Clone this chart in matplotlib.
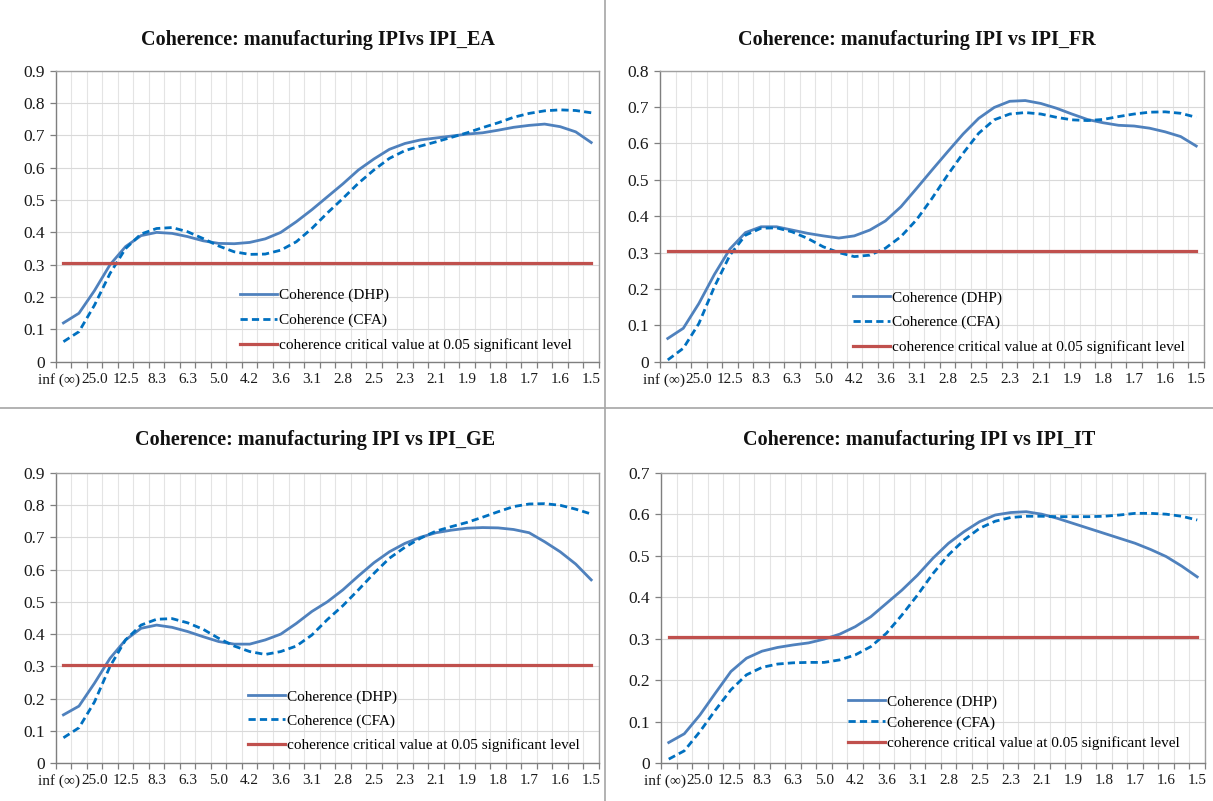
import numpy as np
import matplotlib
matplotlib.use("Agg")
import matplotlib.pyplot as plt
from matplotlib.lines import Line2D
from matplotlib.ticker import FuncFormatter
from matplotlib.transforms import ScaledTranslation

plt.rcParams['font.family'] = ['Liberation Serif', 'DejaVu Serif']

# Period (in quarters) of each frequency ordinate, k = 0..34
PERIODS = ["inf (∞)", "50.0", "25.0", "16.7", "12.5", "10.0", "8.3", "7.1", "6.3",
           "5.6", "5.0", "4.5", "4.2", "3.8", "3.6", "3.3", "3.1", "2.9", "2.8",
           "2.6", "2.5", "2.4", "2.3", "2.2", "2.1", "2.0", "1.9", "1.9", "1.8",
           "1.7", "1.7", "1.6", "1.6", "1.5", "1.5"]

CRIT = 0.305

EA_DHP = [0.12, 0.15, 0.22, 0.30, 0.356, 0.39, 0.40, 0.397, 0.387, 0.374, 0.366, 0.365,
          0.369, 0.38, 0.40, 0.433, 0.47, 0.51, 0.55, 0.593, 0.627, 0.657, 0.675, 0.686,
          0.692, 0.698, 0.704, 0.708, 0.716, 0.725, 0.731, 0.735, 0.727, 0.711, 0.678]
EA_CFA = [0.062, 0.093, 0.175, 0.273, 0.35, 0.395, 0.412, 0.415, 0.402, 0.381, 0.358, 0.34,
          0.332, 0.333, 0.345, 0.371, 0.412, 0.46, 0.505, 0.552, 0.593, 0.629, 0.653, 0.667,
          0.68, 0.694, 0.708, 0.724, 0.739, 0.756, 0.768, 0.776, 0.779, 0.777, 0.77]

FR_DHP = [0.064, 0.092, 0.16, 0.24, 0.31, 0.355, 0.371, 0.371, 0.362, 0.353, 0.346, 0.34,
          0.346, 0.362, 0.387, 0.426, 0.476, 0.527, 0.577, 0.626, 0.669, 0.699, 0.716, 0.718,
          0.71, 0.697, 0.681, 0.666, 0.657, 0.65, 0.648, 0.642, 0.632, 0.619, 0.593]
FR_CFA = [0.005, 0.037, 0.105, 0.206, 0.293, 0.348, 0.367, 0.368, 0.357, 0.339, 0.316, 0.30,
          0.289, 0.293, 0.312, 0.344, 0.39, 0.449, 0.513, 0.573, 0.628, 0.665, 0.681, 0.685,
          0.681, 0.672, 0.665, 0.663, 0.666, 0.674, 0.681, 0.686, 0.687, 0.683, 0.672]

GE_DHP = [0.15, 0.177, 0.248, 0.325, 0.382, 0.418, 0.428, 0.421, 0.408, 0.392, 0.377, 0.369,
          0.369, 0.382, 0.40, 0.433, 0.47, 0.50, 0.537, 0.58, 0.621, 0.655, 0.681, 0.70,
          0.714, 0.722, 0.728, 0.73, 0.729, 0.724, 0.714, 0.686, 0.655, 0.617, 0.568]
GE_CFA = [0.079, 0.11, 0.19, 0.30, 0.382, 0.428, 0.446, 0.448, 0.435, 0.415, 0.387, 0.363,
          0.346, 0.337, 0.346, 0.363, 0.397, 0.445, 0.488, 0.537, 0.588, 0.635, 0.669, 0.697,
          0.719, 0.733, 0.746, 0.762, 0.779, 0.795, 0.803, 0.804, 0.799, 0.787, 0.772]

IT_DHP = [0.05, 0.071, 0.116, 0.169, 0.221, 0.253, 0.27, 0.279, 0.285, 0.29, 0.299, 0.311,
          0.329, 0.353, 0.385, 0.417, 0.453, 0.494, 0.53, 0.558, 0.582, 0.598, 0.604, 0.606,
          0.60, 0.59, 0.578, 0.566, 0.554, 0.542, 0.53, 0.515, 0.498, 0.475, 0.449]
IT_CFA = [0.01, 0.03, 0.076, 0.128, 0.177, 0.213, 0.231, 0.239, 0.242, 0.243, 0.243, 0.249,
          0.261, 0.281, 0.313, 0.357, 0.405, 0.457, 0.502, 0.538, 0.566, 0.583, 0.592, 0.595,
          0.595, 0.594, 0.594, 0.594, 0.595, 0.598, 0.602, 0.602, 0.60, 0.595, 0.586]

DHP_COLOR = "#4F81BD"
CFA_COLOR = "#0070C0"
CRIT_COLOR = "#C0504D"

# title, dhp, cfa, ymax, axes rect, title pos, legend anchor, legend row spacing
PANELS = [
    ("Coherence: manufacturing IPIvs IPI_EA", EA_DHP, EA_CFA, 0.9,
     [0.0459, 0.5484, 0.4479, 0.3633], (0.262, 0.950), (0.339, 0.033), 0.72),
    ("Coherence: manufacturing IPI vs IPI_FR", FR_DHP, FR_CFA, 0.8,
     [0.5441, 0.5484, 0.4485, 0.3633], (0.756, 0.950), (0.355, 0.026), 0.72),
    ("Coherence: manufacturing IPI vs IPI_GE", GE_DHP, GE_CFA, 0.9,
     [0.0459, 0.0471, 0.4479, 0.3628], (0.260, 0.451), (0.354, 0.039), 0.68),
    ("Coherence: manufacturing IPI vs IPI_IT", IT_DHP, IT_CFA, 0.7,
     [0.5449, 0.0471, 0.4485, 0.3628], (0.758, 0.451), (0.344, 0.045), 0.45),
]


def draw_panel(fig, ax, dhp, cfa, ymax, anchor, spacing):
    x = np.arange(len(PERIODS))
    ax.plot(x, dhp, color=DHP_COLOR, lw=2.0, label="Coherence (DHP)")
    ax.plot(x, cfa, color=CFA_COLOR, lw=2.0, ls=(0, (2.6, 1.5)), label="Coherence (CFA)")
    ax.plot(x, [CRIT] * len(x), color=CRIT_COLOR, lw=2.3,
            label="coherence critical value at 0.05 significant level")

    ax.set_xlim(-0.5, len(PERIODS) - 0.5)
    ax.set_ylim(0, ymax)

    # labels on every other category, tick marks between categories
    ax.set_xticks(x[::2])
    ax.set_xticklabels(PERIODS[::2])
    ax.set_xticks(np.arange(-0.5, len(PERIODS)), minor=True)
    ax.tick_params(axis="x", which="major", length=0, pad=8, labelsize=11, labelcolor="#1a1a1a")
    ax.tick_params(axis="x", which="minor", length=4, color="#7f7f7f", width=0.9)
    # the first label is wide; pull it a little to the left
    first = ax.get_xticklabels()[0]
    first.set_transform(first.get_transform() + ScaledTranslation(-3 / 72, 0, fig.dpi_scale_trans))

    ax.set_yticks(np.arange(0, ymax + 0.001, 0.1))
    ax.yaxis.set_major_formatter(FuncFormatter(lambda v, _: "0" if abs(v) < 1e-9 else f"{v:.1f}"))
    ax.tick_params(axis="y", length=4, color="#7f7f7f", width=0.9, pad=4,
                   labelsize=12.5, labelcolor="#1a1a1a")

    ax.grid(True, axis="x", which="minor", color="#e4e4e4", lw=0.8)
    ax.grid(True, axis="y", which="major", color="#d9d9d9", lw=0.8)
    ax.set_axisbelow(True)

    for side, spine in ax.spines.items():
        spine.set_color("#7f7f7f" if side in ("left", "bottom") else "#a0a0a0")
        spine.set_linewidth(1.0)

    ax.legend(loc="lower left", bbox_to_anchor=anchor, frameon=False, fontsize=11,
              handlelength=2.4, handletextpad=0.15, labelspacing=spacing,
              borderaxespad=0, borderpad=0)


fig = plt.figure(figsize=(12.13, 8.01), dpi=100)

for title, dhp, cfa, ymax, rect, tpos, anchor, spacing in PANELS:
    ax = fig.add_axes(rect)
    draw_panel(fig, ax, dhp, cfa, ymax, anchor, spacing)
    fig.text(tpos[0], tpos[1], title, ha="center", va="center",
             fontsize=14.5, fontweight="bold", color="#111111")

# cell borders between the four charts
fig.add_artist(Line2D([0.4988, 0.4988], [0, 1], transform=fig.transFigure,
                      color="#a6a6a6", lw=1.2))
fig.add_artist(Line2D([0, 1], [0.4906, 0.4906], transform=fig.transFigure,
                      color="#a6a6a6", lw=1.2))

fig.savefig("out.png", dpi=100)
